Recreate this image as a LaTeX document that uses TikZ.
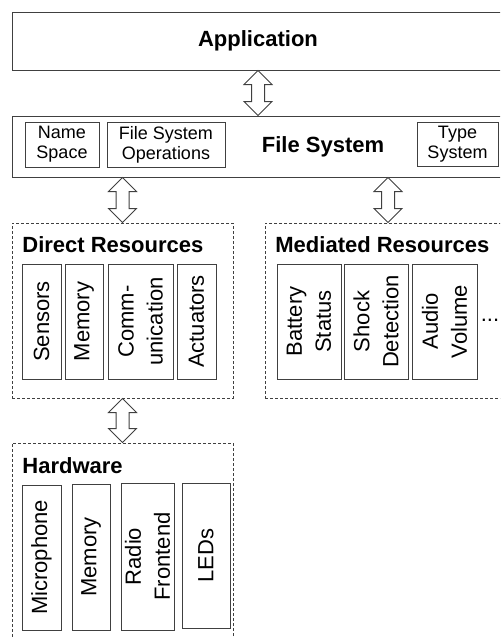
\documentclass[tikz,border=0pt]{standalone}
\usepackage{fontspec}
\setmainfont{Liberation Sans}
\usetikzlibrary{calc}

% hollow double arrow between two nodes (top to bottom)
\newcommand\fatarrow[2]{%
  \draw[fatarrow] let \p1=(#1), \p2=(#2) in
    (\x1,\y1) -- (\x1+7pt,\y1-7pt) -- (\x1+3.25pt,\y1-7pt) -- (\x1+3.25pt,\y2+7pt)
    -- (\x1+7pt,\y2+7pt) -- (\x1,\y2) -- (\x1-7pt,\y2+7pt) -- (\x1-3.25pt,\y2+7pt)
    -- (\x1-3.25pt,\y1-7pt) -- (\x1-7pt,\y1-7pt) -- cycle;}

\begin{document}
\begin{tikzpicture}[x=0.5pt, y=-0.5pt,
    box/.style={draw=black!75, line width=0.5pt, inner sep=0pt, align=center},
    sbox/.style={box, font=\fontsize{9}{10}\selectfont},
    rbox/.style={box, rotate=90, minimum width=57.5pt, font=\fontsize{11}{14.5}\selectfont},
    group/.style={draw=black!75, line width=0.5pt, dash pattern=on 1.5pt off 1pt, inner sep=0pt},
    title/.style={font=\fontsize{11}{13}\selectfont\bfseries, inner sep=0pt},
    fatarrow/.style={draw=black!75, line width=0.5pt, fill=white}]
    \useasboundingbox (0,0) rectangle (500,637);
    \clip (0,0) rectangle (500,637);

    % Application
    \node[box, minimum width=246pt, minimum height=29pt, title] (app) at (258,41) {Application};

    % File System
    \node[box, minimum width=246pt, minimum height=30.5pt] (fs) at (258,146.5) {};
    \node[title] (fstitle) at (323,147) {File System};
    \node[sbox, minimum width=37pt, minimum height=22.5pt] (ns) at (62,144.5) {Name\\Space};
    \node[sbox, minimum width=59pt, minimum height=22.5pt] (fso) at (166,144.5) {File System\\Operations};
    \node[sbox, minimum width=40.5pt, minimum height=22pt] (ts) at (457.5,144) {Type\\System};

    % Direct Resources
    \node[group, minimum width=110.5pt, minimum height=87.5pt] (direct) at (122.5,310.5) {};
    \node[title, anchor=base west] (directtitle) at (22,252) {Direct Resources};
    \node[rbox, minimum height=19.5pt] (sensors) at (41.5,321.5) {Sensors};
    \node[rbox, minimum height=19pt] (memory) at (84,321.5) {Memory};
    \node[rbox, minimum height=32.5pt] (comm) at (140.5,321.5) {Comm-\\unication};
    \node[rbox, minimum height=19.5pt] (actuators) at (196.5,321.5) {Actuators};

    % Mediated Resources
    \node[group, minimum width=123pt, minimum height=87.5pt] (mediated) at (388,310.5) {};
    \node[title, anchor=base west] (mediatedtitle) at (275,252) {Mediated Resources};
    \node[rbox, minimum height=32pt] (battery) at (309,321.5) {Battery\\Status};
    \node[rbox, minimum height=32pt] (shock) at (376,321.5) {Shock\\Detection};
    \node[rbox, minimum height=32.5pt] (audio) at (444.5,321.5) {Audio\\Volume};
    \node[anchor=base, inner sep=0pt, font=\fontsize{11}{13}\selectfont] (more) at (490,321) {...};

    % Hardware
    \node[group, minimum width=110.5pt, minimum height=103.5pt] (hw) at (122.5,546.5) {};
    \node[title, anchor=base west] (hwtitle) at (22,473) {Hardware};
    \node[rbox, minimum width=72.5pt, minimum height=19.5pt] (mic) at (41.5,557.5) {Microphone};
    \node[rbox, minimum width=73pt, minimum height=19pt] (hwmemory) at (91,557) {Memory};
    \node[rbox, minimum width=73.5pt, minimum height=26.5pt] (radio) at (147.5,556.5) {Radio\\Frontend};
    \node[rbox, minimum width=72.5pt, minimum height=24pt] (leds) at (206,555.5) {LEDs};

    % Interfaces
    \fatarrow{app.south}{fs.north}
    \fatarrow{fs.south -| direct.north}{direct.north}
    \fatarrow{fs.south -| mediated.north}{mediated.north}
    \fatarrow{direct.south}{hw.north}
\end{tikzpicture}
\end{document}
